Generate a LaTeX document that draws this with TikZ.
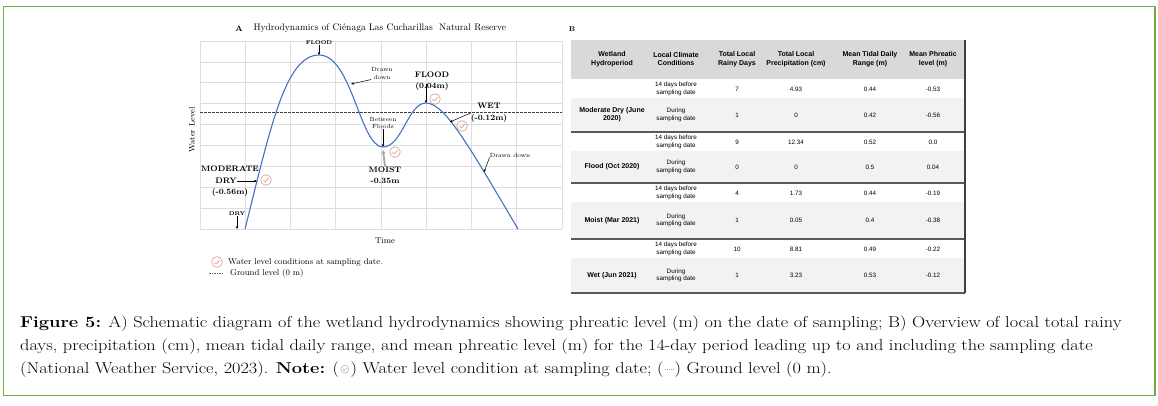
\documentclass[tikz,border=0pt]{standalone}
\usepackage{fontspec}
\newfontfamily\tabfont{Liberation Sans}
\newfontfamily\capfont[FakeStretch=1.165]{Latin Modern Roman}
\usepackage{xcolor}
\usetikzlibrary{arrows.meta,positioning}

\definecolor{framegreen}{RGB}{112,173,71}
\definecolor{curveblue}{RGB}{68,114,196}
\definecolor{gridc}{RGB}{222,222,222}
\definecolor{checkc}{RGB}{222,150,140}
\definecolor{headgray}{RGB}{217,217,217}
\definecolor{rowgray}{RGB}{242,242,242}

\tikzset{
  chk/.pic={
    \draw[line width=0.6pt] (0,0) circle[radius=5.3pt];
    \draw[line width=0.6pt] (-2.6,0.2) -- (-0.8,2) -- (2.8,-1.8);
  }
}

\begin{document}
\begin{tikzpicture}[x=1pt, y=-1pt,
    lbl/.style={font=\fontsize{8}{11.5}\selectfont\bfseries, align=center, inner sep=0pt},
    smalltxt/.style={font=\fontsize{6}{7.5}\selectfont, align=center, inner sep=0pt},
    smallb/.style={font=\fontsize{5.5}{6}\selectfont\bfseries, inner sep=0pt},
    thead/.style={font=\tabfont\fontsize{7}{8.5}\selectfont\bfseries, align=center},
    tcell/.style={font=\tabfont\fontsize{6.3}{7.6}\selectfont, align=center},
    tbold/.style={font=\tabfont\fontsize{7}{8}\selectfont\bfseries, align=center},
    captxt/.style={font=\capfont\fontsize{15.7}{23}\selectfont, anchor=base west, inner sep=0pt},
    arr/.style={-{Stealth[length=3pt,width=2.6pt]}, line width=0.5pt}]
    \useasboundingbox (0,0) rectangle (1158,405);
    \fill[white] (0,0) rectangle (1158,405);

    % Outer frame
    \draw[framegreen, line width=1.5pt] (3.5,6.5) rectangle (1155,395.5);

    % ---------- Panel A ----------
    \node[font=\fontsize{8}{9}\selectfont\bfseries] (tA) at (239,28.5) {A};
    \node[anchor=west, font=\fontsize{9.5}{11}\selectfont] (ttl) at (250,28) {Hydrodynamics of Ciénaga Las Cucharillas\ \ Natural Reserve};

    % Chart grid
    \foreach \i in {0,...,8}
        \draw[gridc, line width=0.6pt] ({200+45.25*\i},41) -- ({200+45.25*\i},229);
    \foreach \j in {0,...,9}
        \draw[gridc, line width=0.6pt] (200,{41+20.89*\j}) -- (562,{41+20.89*\j});

    % Ground level
    \draw[black!75, line width=0.7pt, dash pattern=on 2.5pt off 1.5pt] (200,112) -- (562,112);

    % Curve points
    \coordinate (c0) at (245,229);
    \coordinate (pkA) at (319,55);
    \coordinate (lowB) at (383,147);
    \coordinate (pkB) at (426,103);
    \coordinate (c4) at (518,229);
    \coordinate (mdry) at (257,181);
    \coordinate (ddA) at (351,84);
    \coordinate (wetp) at (450,122);
    \coordinate (ddB) at (484,172);

    % Water level curve
    \draw[curveblue, line width=1.1pt] (c0) .. controls (270,130) and (285,55) .. (pkA)
        .. controls (352,55) and (360,147) .. (lowB)
        .. controls (402,147) and (408,103) .. (pkB)
        .. controls (445,103) and (470,148) .. (c4);

    % Axis labels
    \node[rotate=90, font=\fontsize{8}{9}\selectfont] (ylab) at (192,130) {Water Level};
    \node[font=\fontsize{8.5}{10}\selectfont] (xlab) at (385,241) {Time};

    % First flood
    \node[smallb] (fl1) at (319,43) {FLOOD};
    \draw[arr] (fl1) -- (pkA);
    \node[smalltxt] (dd1) at (382,73.5) {Drawn\\down};
    \draw[arr] (dd1.south west) -- (ddA);

    % Between floods / moist
    \node[smalltxt] (btw) at (383,123) {Between\\Floods};
    \draw[arr] (btw) -- (lowB);
    \node[lbl] (moist) at (385,175) {MOIST\\-0.35m};
    \draw[-{Stealth[length=4pt,width=4pt]}, gray!70, line width=1.8pt] (moist.north) -- ([yshift=-3pt]lowB);
    \pic[checkc] at (395,152) {chk};

    % Second flood
    \node[lbl] (fl2) at (432,81) {FLOOD\\(0.04m)};
    \coordinate (fl2a) at (426,84);
    \draw[arr] (fl2a) -- (pkB);
    \pic[checkc] at (435,99) {chk};

    % Wet
    \node[lbl] (wet) at (489,113) {WET\\(-0.12m)};
    \draw[arr] (wet.west) -- (wetp);
    \pic[checkc] at (462,126) {chk};

    % Drawn down
    \node[smalltxt] (dd2) at (510,155) {Drawn down};
    \draw[arr] (dd2.south west) -- (ddB);

    % Moderate dry
    \node[lbl] (mod) at (230,169) {MODERATE};
    \node[lbl] (dry) at (226,181) {DRY};
    \node[lbl] (mdv) at (230,192.5) {(-0.56m)};
    \draw[arr] (dry.east) -- (mdry);
    \pic[checkc] at (266,180) {chk};

    % Dry
    \node[smallb] (dry2) at (237,214) {DRY};
    \coordinate (dry2b) at (237,229);
    \draw[arr] (dry2) -- (dry2b);

    % Legend
    \pic[checkc] at (217,262) {chk};
    \node[anchor=west, inner sep=0pt, font=\fontsize{8.5}{10}\selectfont] (leg1) at (228,262) {Water level conditions at sampling date.};
    \draw[black!60, line width=0.5pt, dash pattern=on 1.5pt off 1pt] (209,273) -- (222,273);
    \node[anchor=west, inner sep=0pt, font=\fontsize{8.5}{10}\selectfont] (leg2) at (230,273) {Ground level (0 m)};

    % ---------- Panel B ----------
    \node[font=\fontsize{7}{8}\selectfont\bfseries] (tB) at (572,29) {B};

    % Table header
    \fill[headgray] (571,40) rectangle (965,79);
    \foreach \cx/\hdtxt [count=\k] in {612/{Wetland\\Hydroperiod}, 676/{Local Climate\\Conditions},
        737/{Total Local\\Rainy Days}, 796/{Total Local\\Precipitation (cm)},
        870/{Mean Tidal Daily\\Range (m)}, 933/{Mean Phreatic\\level (m)}}
        \node[thead] (h\k) at (\cx,59) {\hdtxt};

    % Table rows
    \foreach \gtop/\gbot/\hper/\dA/\pA/\rA/\mA/\dB/\pB/\rB/\mB [count=\g] in {
        79/132/{Moderate Dry (June\\2020)}/7/4.93/0.44/-0.53/1/0/0.42/-0.56,
        132/183/{Flood (Oct 2020)}/9/12.34/0.52/0.0/0/0/0.5/0.04,
        183/239/{Moist (Mar 2021)}/4/1.73/0.44/-0.19/1/0.05/0.4/-0.38,
        239/293/{Wet (Jun 2021)}/10/8.81/0.49/-0.22/1/3.23/0.53/-0.12}{
        \fill[rowgray] (571,{\gtop+19}) rectangle (965,\gbot);
        \node[tcell] (pre\g) at (676,{\gtop+10}) {14 days before\\sampling date};
        \node[tcell] (da\g) at (737,{\gtop+10}) {\dA};
        \node[tcell] (pa\g) at (796,{\gtop+10}) {\pA};
        \node[tcell] (ra\g) at (870,{\gtop+10}) {\rA};
        \node[tcell] (ma\g) at (933,{\gtop+10}) {\mA};
        \node[tbold] (hp\g) at (612,{(\gtop+19+\gbot)/2}) {\hper};
        \node[tcell] (dur\g) at (676,{(\gtop+19+\gbot)/2}) {During\\sampling date};
        \node[tcell] (db\g) at (737,{(\gtop+19+\gbot)/2}) {\dB};
        \node[tcell] (pb\g) at (796,{(\gtop+19+\gbot)/2}) {\pB};
        \node[tcell] (rb\g) at (870,{(\gtop+19+\gbot)/2}) {\rB};
        \node[tcell] (mb\g) at (933,{(\gtop+19+\gbot)/2}) {\mB};
    }

    % Table rules
    \foreach \ly in {132,183,239,293}
        \draw[black!65, line width=1.1pt] (571,\ly) -- (965,\ly);
    \draw[black!75, line width=1.1pt] (965,40) -- (965,293);

    % ---------- Caption ----------
    \node[captxt] (cap1) at (20,327) {\textbf{Figure 5:} A) Schematic diagram of the wetland hydrodynamics showing phreatic level (m) on the date of sampling; B) Overview of local total rainy};
    \node[captxt] (cap2) at (20,350) {days, precipitation (cm), mean tidal daily range, and mean phreatic level (m) for the 14-day period leading up to and including the sampling date};
    \node[captxt] (cap3a) at (20,373) {(National Weather Service, 2023). \textbf{Note:} (};
    \pic[gray!55, scale=0.75] at ([xshift=5.5pt]cap3a.east) {chk};
    \node[captxt] (cap3b) at ([xshift=11pt]cap3a.base east) {) Water level condition at sampling date; (};
    \draw[gray!70, line width=0.5pt, dash pattern=on 1pt off 0.8pt] ([xshift=1.5pt]cap3b.east) -- ([xshift=9pt]cap3b.east);
    \node[captxt] (cap3c) at ([xshift=10.5pt]cap3b.base east) {) Ground level (0 m).};
\end{tikzpicture}
\end{document}
